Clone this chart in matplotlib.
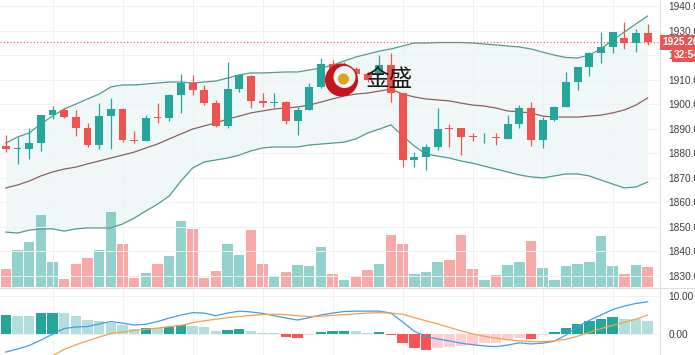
import matplotlib
matplotlib.use('Agg')
import matplotlib.pyplot as plt
import numpy as np
from matplotlib.patches import Ellipse

# candles (OHLC)
opens = [1883.0, 1881.6, 1881.8, 1884.0, 1895.5, 1897.6, 1894.6, 1890.1, 1883.3, 1895.1,
         1897.9, 1885.3, 1885.0, 1894.5, 1894.2, 1903.7, 1908.7, 1905.7, 1900.6, 1891.1,
         1906.0, 1911.6, 1901.4, 1900.3, 1901.0, 1893.1, 1897.6, 1906.8, 1916.3, 1913.8,
         1914.2, 1912.3, 1912.6, 1915.9, 1904.4, 1877.2, 1878.3, 1882.4, 1890.1, 1890.1,
         1886.8, 1886.4, 1886.4, 1885.6, 1891.9, 1898.3, 1885.4, 1893.5, 1898.9, 1909.1,
         1915.2, 1921.0, 1923.4, 1927.1, 1925.0, 1928.9]
highs = [1887.4, 1886.5, 1890.1, 1895.7, 1899.3, 1898.3, 1897.6, 1892.4, 1900.3, 1902.4,
         1898.2, 1889.0, 1895.5, 1900.3, 1904.0, 1912.1, 1911.9, 1907.8, 1901.7, 1917.3,
         1912.1, 1911.8, 1904.6, 1904.4, 1901.3, 1898.7, 1908.5, 1918.7, 1918.0, 1917.0,
         1915.0, 1913.0, 1920.0, 1920.7, 1904.6, 1880.6, 1883.7, 1898.3, 1891.9, 1890.2,
         1888.1, 1888.1, 1888.1, 1895.5, 1899.6, 1901.0, 1894.9, 1899.2, 1913.2, 1915.3,
         1921.4, 1929.3, 1929.6, 1933.4, 1930.5, 1932.5]
lows = [1880.6, 1875.6, 1877.5, 1881.0, 1893.8, 1894.2, 1887.0, 1882.6, 1881.6, 1881.6,
        1884.7, 1884.0, 1884.9, 1892.2, 1893.2, 1896.2, 1903.7, 1899.6, 1890.8, 1890.1,
        1905.1, 1898.3, 1898.7, 1898.9, 1891.9, 1887.4, 1897.4, 1906.4, 1912.0, 1911.5,
        1911.5, 1909.0, 1912.0, 1901.0, 1874.5, 1874.5, 1873.1, 1881.3, 1882.4, 1879.2,
        1885.1, 1884.3, 1883.3, 1885.6, 1890.1, 1882.9, 1882.0, 1893.2, 1898.9, 1905.7,
        1911.5, 1916.6, 1920.7, 1922.3, 1921.4, 1924.1]
closes = [1881.6, 1882.0, 1884.0, 1895.5, 1897.6, 1894.6, 1890.1, 1883.3, 1895.1, 1897.9,
          1885.4, 1884.9, 1894.2, 1894.2, 1903.7, 1908.7, 1905.7, 1900.6, 1891.1, 1906.0,
          1911.9, 1901.4, 1900.3, 1900.9, 1893.1, 1897.6, 1906.8, 1916.3, 1913.8, 1914.6,
          1912.3, 1909.8, 1915.9, 1904.4, 1877.2, 1878.5, 1882.6, 1889.8, 1889.7, 1886.7,
          1886.5, 1886.6, 1886.0, 1891.9, 1898.3, 1885.4, 1893.5, 1898.9, 1909.1, 1915.2,
          1921.0, 1923.4, 1929.5, 1925.0, 1928.9, 1925.2]

# bollinger bands
bb_upper = [1884.1, 1886.6, 1888.2, 1891.9, 1895.1, 1898.0, 1900.0, 1902.1, 1904.1, 1907.0,
            1907.8, 1907.8, 1908.2, 1908.6, 1909.0, 1909.0, 1908.6, 1909.0, 1909.4, 1910.6,
            1911.9, 1912.7, 1912.7, 1912.9, 1913.1, 1913.1, 1913.9, 1914.7, 1915.9, 1917.6,
            1919.2, 1920.4, 1921.6, 1922.5, 1923.7, 1924.9, 1924.9, 1925.1, 1925.1, 1925.1,
            1924.9, 1924.5, 1924.1, 1923.7, 1923.3, 1922.5, 1921.2, 1920.0, 1919.0, 1918.8,
            1920.0, 1922.5, 1926.1, 1929.4, 1932.7, 1935.9]
bb_mid = [1865.8, 1867.0, 1868.6, 1870.7, 1872.3, 1873.5, 1874.3, 1875.6, 1876.8, 1878.0,
          1879.2, 1880.4, 1882.1, 1883.7, 1885.8, 1887.8, 1889.8, 1891.1, 1892.3, 1893.9,
          1895.1, 1896.4, 1897.2, 1898.0, 1898.4, 1898.8, 1899.6, 1900.8, 1902.1, 1903.3,
          1904.1, 1904.5, 1905.3, 1906.1, 1904.1, 1902.9, 1902.1, 1901.7, 1901.3, 1900.4,
          1899.6, 1899.2, 1898.4, 1897.2, 1896.8, 1896.4, 1895.1, 1894.7, 1894.7, 1894.7,
          1895.1, 1895.5, 1896.4, 1897.6, 1899.6, 1902.5]
bb_lower = [1847.8, 1847.4, 1848.6, 1849.1, 1849.1, 1848.2, 1849.1, 1849.5, 1849.5, 1849.5,
            1851.1, 1853.5, 1856.4, 1859.2, 1862.5, 1868.6, 1873.9, 1876.4, 1877.2, 1878.0,
            1879.2, 1880.9, 1882.1, 1882.5, 1882.5, 1882.5, 1883.3, 1883.7, 1884.1, 1884.5,
            1885.8, 1888.2, 1889.8, 1891.5, 1887.0, 1882.9, 1879.6, 1878.8, 1878.0, 1876.8,
            1875.9, 1874.7, 1873.5, 1872.3, 1871.1, 1870.3, 1869.9, 1870.7, 1871.5, 1871.5,
            1870.7, 1869.0, 1867.4, 1865.8, 1866.2, 1868.2]

volume = [1830, 3730, 4470, 7170, 2470, 800, 2270, 2930, 3670, 7500,
          4270, 870, 1400, 2270, 3070, 6570, 5770, 870, 1570, 4270,
          3200, 5730, 2330, 1070, 1500, 2170, 2100, 4000, 1330, 670,
          1000, 1730, 2270, 5230, 4330, 1270, 1470, 2470, 2670, 5170,
          1830, 670, 1170, 2170, 2470, 4600, 1900, 730, 2070, 2270,
          2530, 5100, 2100, 1270, 2170, 1970]

# MACD
macd_line = [-4.6, -3.8, -2.9, -1.5, 0.0, 1.5, 1.9, 2.0, 2.7, 3.3,
             2.9, 2.4, 2.6, 3.3, 4.2, 5.0, 5.6, 5.5, 4.8, 5.5,
             6.0, 5.8, 5.4, 4.8, 4.2, 3.7, 4.3, 5.0, 5.5, 5.9,
             6.0, 6.0, 6.0, 5.5, 3.2, 0.8, -0.6, -1.2, -1.7, -2.3,
             -2.7, -3.0, -3.2, -2.8, -2.2, -2.5, -2.3, -1.8, -0.2, 2.0,
             3.6, 5.0, 6.4, 7.3, 8.0, 8.4]
signal_line = [-9.6, -8.5, -7.6, -6.9, -5.6, -3.9, -2.7, -1.7, -0.7, 0.2,
               0.6, 1.0, 1.3, 1.6, 2.0, 2.3, 3.0, 3.5, 3.9, 4.3,
               4.6, 4.9, 5.1, 5.2, 5.1, 4.8, 4.6, 4.7, 4.9, 5.1,
               5.3, 5.5, 5.6, 5.5, 5.2, 4.3, 3.5, 2.7, 1.8, 0.9,
               0.1, -0.5, -1.0, -1.4, -1.7, -1.9, -1.9, -1.7, -1.3, -0.5,
               0.5, 1.5, 2.3, 3.1, 3.9, 5.0]
macd_hist = [5.0, 4.7, 4.7, 5.4, 5.6, 5.4, 4.7, 3.7, 3.4, 3.0,
             2.4, 1.5, 1.7, 1.6, 2.0, 2.3, 2.2, 1.8, 0.9, 1.1,
             1.5, 0.9, 0.4, 0.25, -0.8, -1.05, -0.3, 0.5, 0.8, 0.9,
             0.85, 0.43, 0.52, -0.26, -2.33, -3.63, -4.06, -3.63, -3.2, -2.94,
             -2.68, -2.33, -2.16, -1.6, -1.0, -1.3, -0.26, 0.52, 1.64, 2.6,
             3.54, 4.06, 4.4, 4.06, 3.9, 3.45]

price_ticks = [1830, 1840, 1850, 1860, 1870, 1880, 1890, 1900, 1910, 1920, 1930, 1940]
macd_ticks = [0, 10]
grid_x = [4, 10, 16, 22, 28, 34, 40, 46, 52]
last_price = 1925.20
countdown = '32:54'

UP = '#26a69a'
DOWN = '#ef5350'
LBL = 7.3

plt.rcParams['font.family'] = ['Liberation Sans', 'DejaVu Sans']

fig = plt.figure(figsize=(6.95, 3.55), dpi=100)
ax = fig.add_axes([0, 1 - 287/355, 660/695, 287/355])
axm = fig.add_axes([0, 0, 660/695, 1 - 289/355])
axv = ax.twinx()

x = np.arange(len(closes))
o = np.array(opens); c = np.array(closes); h = np.array(highs); l = np.array(lows)
up = c >= o
cols = np.where(up, UP, DOWN)

# volume (behind price)
vcols = np.where(up, '#93d2cc', '#f7a9a8')
axv.bar(x, volume, width=0.9, color=vcols, zorder=1)
axv.set_ylim(0, 28700)
axv.axis('off')
ax.set_zorder(axv.get_zorder() + 1)
ax.patch.set_visible(False)

# bands
ax.fill_between(x, bb_lower, bb_upper, color='#26a69a', alpha=0.07, lw=0, zorder=1)
ax.plot(x, bb_upper, color='#4e9b94', lw=0.9, zorder=2)
ax.plot(x, bb_lower, color='#4e9b94', lw=0.9, zorder=2)
ax.plot(x, bb_mid, color='#8d5f5f', lw=0.9, zorder=2)

# candles
ax.vlines(x, l, h, colors=cols, lw=0.9, zorder=3)
body = np.maximum(np.abs(c - o), 0.35)
ax.bar(x, body, bottom=np.minimum(o, c), width=0.68, color=cols, zorder=4)

ax.axhline(last_price, color=DOWN, lw=0.8, ls=(0, (1, 2)), zorder=2)

ax.set_xlim(-0.5, 56.06)
ax.set_ylim(1825.4, 1942.45)
ax.set_xticks(grid_x)
ax.set_yticks(price_ticks)
ax.set_yticklabels(['%.2f' % t for t in price_ticks])
ax.yaxis.tick_right()
ax.tick_params(axis='y', length=0, pad=6, labelsize=LBL, labelcolor='#3d3d3d')
ax.tick_params(axis='x', length=0, labelbottom=False)
ax.grid(True, color='#eef1f6', lw=0.7, zorder=0)
for s in ['top', 'left', 'bottom']:
    ax.spines[s].set_visible(False)
ax.spines['right'].set_color('#dcdfe5')
ax.spines['right'].set_linewidth(0.8)

# current price / countdown labels
ax.text(1.003, (last_price - 1825.4) / (1942.45 - 1825.4), '%.2f' % last_price, transform=ax.transAxes,
        ha='left', va='center', fontsize=LBL, color='white', fontweight='bold', clip_on=False,
        bbox=dict(boxstyle='square,pad=0.22', fc=DOWN, ec='none'), zorder=10)
ax.text(1.021, 1 - 55/287, countdown, transform=ax.transAxes,
        ha='left', va='center', fontsize=LBL, color='white', fontweight='bold', clip_on=False,
        bbox=dict(boxstyle='square,pad=0.22', fc=DOWN, ec='none'), zorder=10)

# watermark logo
cx, cy, r = 341.5 / 660, 1 - 80 / 287, 16.5
ax.add_patch(Ellipse((cx, cy), 2 * r / 660, 2 * r / 287, transform=ax.transAxes, fc='#c4161c', ec='none', zorder=6))
ax.add_patch(Ellipse((cx + 3 / 660, cy + 3 / 287), 2 * 11 / 660, 2 * 11 / 287, transform=ax.transAxes, fc='#f3f3f3', ec='none', zorder=6))
ax.add_patch(Ellipse((cx + 2 / 660, cy + 1 / 287), 2 * 5.5 / 660, 2 * 5.5 / 287, transform=ax.transAxes, fc='#d9a520', ec='none', zorder=7))
ax.text(365 / 660, cy, '金盛', transform=ax.transAxes, ha='left', va='center', fontsize=17,
        family=['Noto Sans CJK SC', 'DejaVu Sans'], color='#1a1a1a', zorder=7)

# MACD pane
hcols = []
for i, v in enumerate(macd_hist):
    prev = macd_hist[i - 1] if i > 0 else v
    if v >= 0:
        hcols.append('#26a69a' if v > prev or i == 0 else '#b2dfdb')
    else:
        hcols.append('#ff5252' if v < prev else '#ffcdd2')
axm.bar(x, macd_hist, width=0.9, color=hcols, zorder=2)
axm.plot(x, macd_line, color='#3d9df0', lw=0.9, zorder=3)
axm.plot(x, signal_line, color='#f6a04d', lw=0.9, zorder=3)
axm.set_xlim(-0.5, 56.06)
axm.set_ylim(-5.36, 11.73)
axm.set_xticks(grid_x)
axm.set_yticks(macd_ticks)
axm.set_yticklabels(['%.2f' % t for t in macd_ticks])
axm.yaxis.tick_right()
axm.tick_params(axis='y', length=0, pad=6, labelsize=LBL, labelcolor='#3d3d3d')
axm.tick_params(axis='x', length=0, labelbottom=False)
axm.grid(True, color='#eef1f6', lw=0.7, zorder=0)
for s in ['top', 'left', 'bottom']:
    axm.spines[s].set_visible(False)
axm.spines['right'].set_color('#dcdfe5')
axm.spines['right'].set_linewidth(0.8)

fig.add_artist(plt.Line2D([0, 1], [1 - 288/355, 1 - 288/355], color='#dcdfe5', lw=0.8))

fig.savefig('out.png', dpi=100)
